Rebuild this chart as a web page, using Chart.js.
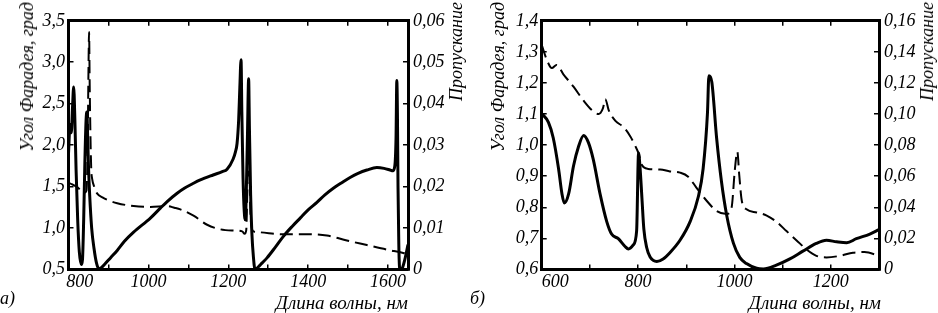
<!DOCTYPE html>
<html><head><meta charset="utf-8">
<script src="https://cdn.jsdelivr.net/npm/chart.js@4.4.1/dist/chart.umd.min.js"></script>
<style>
html,body{margin:0;padding:0;background:#fff;overflow:hidden;}
#wrap{position:relative;width:938px;height:313px;overflow:hidden;background:#fff;}
canvas{position:absolute;top:0;}
.t{position:absolute;font-family:"Liberation Serif","Times New Roman",serif;font-style:italic;font-size:18px;color:#000;white-space:nowrap;line-height:18px;}
.v{writing-mode:vertical-rl;transform:rotate(180deg);}
</style></head><body>
<div id="wrap">
<canvas id="ca" width="469" height="313" style="left:0"></canvas>
<canvas id="cb" width="469" height="313" style="left:469px"></canvas>
<div class="t v" style="left:18px;top:2px">Угол Фарадея, град</div>
<div class="t v" style="left:447px;top:2px">Пропускание</div>
<div class="t" style="right:530px;top:294px;font-size:19px">Длина волны, нм</div>
<div class="t" style="left:0;top:289px">а)</div>
<div class="t v" style="left:489px;top:2px">Угол Фарадея, град</div>
<div class="t v" style="left:918px;top:2px">Пропускание</div>
<div class="t" style="right:57px;top:294px;font-size:19px">Длина волны, нм</div>
<div class="t" style="left:470px;top:289px">б)</div>
</div>
<script>
// ---------- Panel a ----------
const aSolidX = [800,804,807,810,813,816,819,823,827,832,835,838,841,844,846,848,850,853,858,864,870,876,882,890,905,922,940,963,1005,1030,1047,1072,1090,1113,1130,1162,1185,1197,1212,1218,1222,1226,1229,1232,1234,1237,1240,1243,1245,1248,1251,1253,1256,1259,1263,1267,1275,1285,1297,1318,1338,1360,1380,1400,1422,1442,1463,1485,1505,1525,1547,1572,1590,1605,1612,1617,1620,1622,1623.5,1625,1627,1629,1632,1636,1642,1650];
const aSolidY = [1.90,2.25,2.15,2.45,2.70,2.30,1.70,1.10,0.72,0.56,0.62,1.10,1.80,2.30,2.40,2.10,1.75,1.40,1.00,0.75,0.58,0.51,0.52,0.56,0.64,0.73,0.84,0.95,1.12,1.24,1.32,1.42,1.48,1.54,1.58,1.64,1.68,1.71,1.83,1.92,2.02,2.30,2.70,3.03,2.40,1.60,1.20,1.10,1.40,2.10,2.80,2.20,1.40,0.95,0.65,0.50,0.53,0.58,0.64,0.77,0.90,1.02,1.12,1.22,1.31,1.40,1.48,1.55,1.61,1.66,1.70,1.73,1.72,1.70,1.69,1.75,2.08,2.78,2.40,1.50,0.80,0.52,0.50,0.52,0.62,0.80];
const aDashX = [800,810,820,830,840,845,848,850,851.5,853,855,857,859,865,872,885,897,922,963,1005,1047,1065,1080,1113,1147,1180,1212,1235,1241,1245,1248,1251,1253,1255,1258,1263,1275,1338,1400,1447,1497,1547,1597,1638,1650];
const aDashY = [0.0209,0.0205,0.0200,0.0192,0.0185,0.0190,0.0300,0.0480,0.0573,0.0450,0.0320,0.0240,0.0220,0.0198,0.0183,0.0174,0.0168,0.0160,0.0153,0.0151,0.0153,0.0149,0.0145,0.0130,0.0108,0.0097,0.0094,0.0092,0.0086,0.0095,0.0200,0.0300,0.0250,0.0150,0.0105,0.0092,0.0090,0.0085,0.0085,0.0082,0.0070,0.0059,0.0048,0.0040,0.0037];
const aXTicks = [800,900,1000,1100,1200,1300,1400,1500,1600];
const aXLabels = ['800','','1000','','1200','','1400','','1600'];
const aYTicks = [0.5,1.0,1.5,2.0,2.5,3.0,3.5];
const aYLabels = ['0,5','1,0','1,5','2,0','2,5','3,0','3,5'];
const aY2Ticks = [0,0.01,0.02,0.03,0.04,0.05,0.06];
const aY2Labels = ['0','0,01','0,02','0,03','0,04','0,05','0,06'];

// ---------- Panel б ----------
const bSolidX = [600,602,614,624,635,642,647,656,666,676,687,697,707,721,735,745,759,773,780,790,797,801,804,808,812,818,825,839,852,866,887,908,925,935,944,947,953,963,973,984,998,1011,1025,1046,1060,1087,1115,1142,1170,1191,1212,1233,1253,1281,1300];
const bSolidY = [1.100,1.098,1.073,1.023,0.924,0.844,0.814,0.844,0.933,0.993,1.031,1.008,0.954,0.844,0.754,0.714,0.699,0.674,0.666,0.679,0.724,0.975,0.930,0.830,0.730,0.670,0.640,0.626,0.634,0.654,0.694,0.754,0.834,0.924,1.103,1.223,1.203,1.023,0.884,0.774,0.684,0.639,0.619,0.604,0.602,0.614,0.634,0.659,0.684,0.694,0.689,0.686,0.699,0.714,0.728];
const bDashX = [600,611,621,631,645,666,687,704,718,727,732,739,753,770,784,794,801,807,821,846,866,887,904,921,941,963,984,994,1001,1006,1010,1015,1025,1046,1067,1087,1108,1129,1150,1170,1191,1219,1246,1270,1300];
const bDashY = [0.1446,0.1346,0.1296,0.1316,0.1256,0.1176,0.1086,0.1026,0.1000,0.1036,0.1096,0.1026,0.0956,0.0916,0.0856,0.0796,0.0747,0.0677,0.0647,0.0643,0.0631,0.0623,0.0597,0.0527,0.0447,0.0377,0.0357,0.0397,0.0647,0.0757,0.0607,0.0447,0.0387,0.0367,0.0347,0.0307,0.0247,0.0187,0.0128,0.0088,0.0078,0.0088,0.0108,0.0112,0.0088];
const bXTicks = [600,700,800,900,1000,1100,1200,1300];
const bXLabels = ['600','','800','','1000','','1200',''];
const bYTicks = [0.6,0.7,0.8,0.9,1.0,1.1,1.2,1.3,1.4];
const bYLabels = ['0,6','0,7','0,8','0,9','1,0','1,1','1,2','1,3','1,4'];
const bY2Ticks = [0,0.02,0.04,0.06,0.08,0.10,0.12,0.14,0.16];
const bY2Labels = ['0','0,02','0,04','0,06','0,08','0,10','0,12','0,14','0,16'];

const FONT = {family:'"Liberation Serif", "Times New Roman", serif', style:'italic', size:18};

function pts(xs, ys){ return xs.map((x,i)=>({x:x, y:ys[i]})); }

function setTicks(arr){ return s => { s.ticks = arr.map(v=>({value:v})); }; }

function makePanel(id, o){
  const gridCommon = {drawOnChartArea:false, drawTicks:true, tickLength:-5, color:'#000', lineWidth:1.5};
  const borderCommon = {display:true, color:'#000', width:3};
  new Chart(document.getElementById(id), {
    type:'line',
    data:{datasets:[
      {data:pts(o.sx,o.sy), yAxisID:'y', xAxisID:'x', borderColor:'#000', borderWidth:3, pointRadius:0, cubicInterpolationMode:'monotone', borderJoinStyle:'round', fill:false},
      {data:pts(o.dx,o.dy), yAxisID:'y2', xAxisID:'x', borderColor:'#000', borderWidth:2, borderDash:[13,6], pointRadius:0, cubicInterpolationMode:'monotone', borderJoinStyle:'round', fill:false}
    ]},
    options:{
      responsive:false, animation:false, devicePixelRatio:1,
      layout:{padding:0},
      plugins:{legend:{display:false}, tooltip:{enabled:false}},
      scales:{
        x:{type:'linear', position:'bottom', min:o.xmin, max:o.xmax,
           afterBuildTicks:setTicks(o.xt),
           afterFit:s=>{s.height=o.bottomH;},
           grid:gridCommon, border:borderCommon,
           ticks:{autoSkip:false, maxRotation:0, padding:6.5, color:'#000', font:FONT,
             callback:(v,i)=> (i===0 ? o.firstPad : '') + o.xl[i]}},
        xTop:{type:'linear', position:'top', min:o.xmin, max:o.xmax,
           afterBuildTicks:setTicks(o.xt),
           afterFit:s=>{s.height=1.5;},
           grid:gridCommon, border:borderCommon,
           ticks:{display:false}},
        y:{type:'linear', position:'left', min:o.ymin, max:o.ymax,
           afterBuildTicks:setTicks(o.yt),
           afterFit:s=>{s.width=o.leftW;},
           grid:gridCommon, border:borderCommon,
           ticks:{padding:8.5, color:'#000', font:FONT, callback:(v,i)=>o.yl[i]}},
        y2:{type:'linear', position:'right', min:o.y2min, max:o.y2max,
           afterBuildTicks:setTicks(o.y2t),
           afterFit:s=>{s.width=o.rightW;},
           grid:gridCommon, border:borderCommon,
           ticks:{padding:10, color:'#000', font:FONT, callback:(v,i)=>o.y2l[i]}}
      }
    }
  });
}

makePanel('ca', {sx:aSolidX, sy:aSolidY, dx:aDashX, dy:aDashY,
  xmin:800, xmax:1650, ymin:0.5, ymax:3.5, y2min:0, y2max:0.06,
  xt:aXTicks, xl:aXLabels, yt:aYTicks, yl:aYLabels, y2t:aY2Ticks, y2l:aY2Labels,
  leftW:68.5, rightW:61, bottomH:43.5, firstPad:'     '});
makePanel('cb', {sx:bSolidX, sy:bSolidY, dx:bDashX, dy:bDashY,
  xmin:600, xmax:1300, ymin:0.6, ymax:1.4, y2min:0, y2max:0.16,
  xt:bXTicks, xl:bXLabels, yt:bYTicks, yl:bYLabels, y2t:bY2Ticks, y2l:bY2Labels,
  leftW:72.7, rightW:59, bottomH:43.5, firstPad:'      '});
</script>
</body></html>
